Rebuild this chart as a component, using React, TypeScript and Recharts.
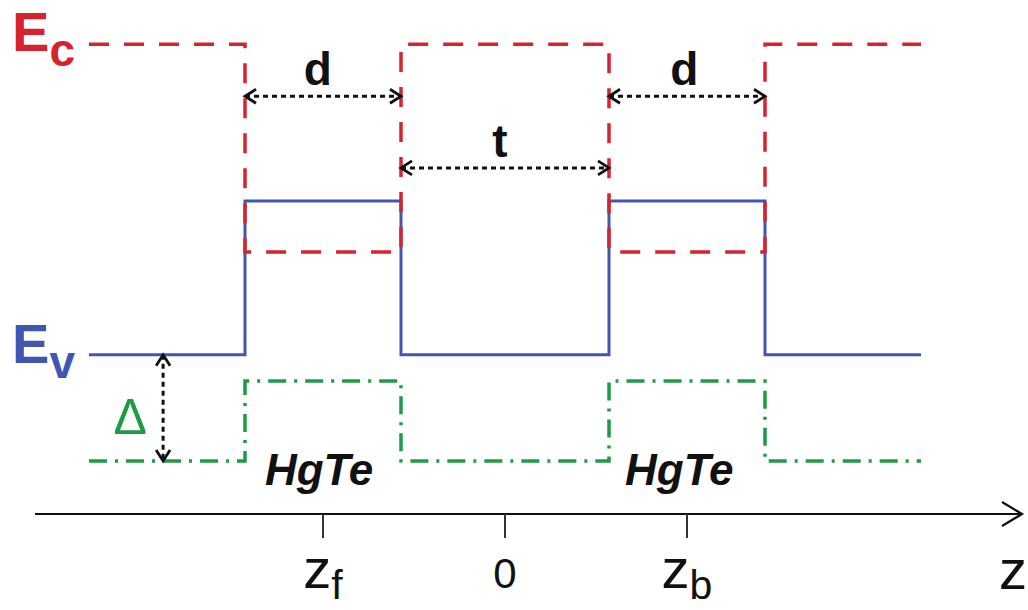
import React from "react";
import { LineChart, Line, XAxis, YAxis, ReferenceDot } from "recharts";

// band edges along z (well edges of the two HgTe layers)
const zEdges = [-16, -10, -4, 4, 10, 16];
const conductionBand = [9.83, 5.48, 9.83, 5.48, 9.83, 9.83];
const valenceBand = [3.33, 6.55, 3.33, 6.55, 3.33, 3.33];
const lowerBand = [1.11, 2.78, 1.11, 2.78, 1.11, 1.11];

const wellStarts = [-10, 4];
const wellEnds = [-4, 10];
const dArrowLevel = 8.74;
const tArrowLevel = 7.24;
const deltaArrowZ = -13.15;

const zTicks = [-7, 0, 7];
const zTickMain = ["z", "0", "z"];
const zTickSub = ["f", "", "b"];

const RED = "#d8232f";
const BLUE = "#4056b2";
const GREEN = "#1f9b47";
const FONT = "'Liberation Sans', Arial, sans-serif";

const bandRows = zEdges.map((z, i) => ({
  z,
  ec: conductionBand[i],
  ev: valenceBand[i],
  lb: lowerBand[i],
}));

const dArrows = wellStarts.map((s, i) => [
  { z: s, e: dArrowLevel },
  { z: wellEnds[i], e: dArrowLevel },
]);
const tArrow = [
  { z: wellEnds[0], e: tArrowLevel },
  { z: wellStarts[1], e: tArrowLevel },
];
const deltaArrow = [
  { z: deltaArrowZ, e: valenceBand[0] },
  { z: deltaArrowZ, e: lowerBand[0] },
];

function arrowDot(vertical: boolean) {
  return (p: any) => {
    const { cx, cy, index } = p;
    const s = index === 0 ? 1 : -1;
    const d = vertical
      ? `M${cx - 7},${cy + 11 * s} L${cx},${cy} L${cx + 7},${cy + 11 * s}`
      : `M${cx + 11 * s},${cy - 7} L${cx},${cy} L${cx + 11 * s},${cy + 7}`;
    return <path key={`a${index}`} d={d} fill="none" stroke="#111" strokeWidth={2.8} />;
  };
}

function label(text: string, opts: any) {
  return (p: any) => (
    <text
      x={p.cx}
      y={p.cy}
      textAnchor={opts.anchor ?? "middle"}
      fontFamily={FONT}
      fontSize={opts.size}
      fontWeight={opts.weight ?? "normal"}
      fontStyle={opts.style ?? "normal"}
      fill={opts.color ?? "#111"}
    >
      {text}
      {opts.sub ? (
        <tspan fontSize={opts.subSize} dy={opts.subDy}>
          {opts.sub}
        </tspan>
      ) : null}
    </text>
  );
}

function ZTick(props: any) {
  const { x, y, payload } = props;
  const i = zTicks.indexOf(payload.value);
  const main = zTickMain[i];
  const sub = zTickSub[i];
  return (
    <text x={x} y={y + 48} textAnchor="middle" fontFamily={FONT} fill="#111" fontSize={main === "0" ? 42 : 56}>
      {main}
      {sub ? (
        <tspan fontSize={41} dy={11}>
          {sub}
        </tspan>
      ) : null}
    </text>
  );
}

function axisHead(p: any) {
  const { cx, cy } = p;
  return (
    <path
      d={`M${cx - 18},${cy - 12} L${cx + 2},${cy} L${cx - 18},${cy + 12}`}
      fill="none"
      stroke="#111"
      strokeWidth={2.2}
    />
  );
}

export default function App() {
  return (
    <div style={{ position: "absolute", left: 0, top: 0, width: 1028, height: 610, background: "#fff" }}>
      <LineChart width={1028} height={610} margin={{ top: 36, right: 8, left: 35, bottom: 36 }}>
        <XAxis
          type="number"
          dataKey="z"
          domain={[-18.077, 19.808]}
          allowDataOverflow
          ticks={zTicks}
          tick={<ZTick />}
          tickSize={24}
          height={60}
          axisLine={{ stroke: "#111", strokeWidth: 2.2 }}
          tickLine={{ stroke: "#333", strokeWidth: 2 }}
        />
        <YAxis type="number" domain={[0, 10]} allowDataOverflow hide width={0} />

        <Line data={bandRows} dataKey="ev" type="stepAfter" stroke={BLUE} strokeWidth={3} dot={false} activeDot={false} isAnimationActive={false} />
        <Line data={bandRows} dataKey="ec" type="stepAfter" stroke={RED} strokeWidth={3.5} strokeDasharray="20 15" dot={false} activeDot={false} isAnimationActive={false} />
        <Line data={bandRows} dataKey="lb" type="stepAfter" stroke={GREEN} strokeWidth={3.5} strokeDasharray="18 8 3 8" dot={false} activeDot={false} isAnimationActive={false} />

        {dArrows.map((a, i) => (
          <Line key={`d${i}`} data={a} dataKey="e" stroke="#111" strokeWidth={3} strokeDasharray="5 4" dot={arrowDot(false)} activeDot={false} isAnimationActive={false} />
        ))}
        <Line data={tArrow} dataKey="e" stroke="#111" strokeWidth={3} strokeDasharray="5 4" dot={arrowDot(false)} activeDot={false} isAnimationActive={false} />
        <Line data={deltaArrow} dataKey="e" stroke="#111" strokeWidth={3} strokeDasharray="5 4" dot={arrowDot(true)} activeDot={false} isAnimationActive={false} />

        <ReferenceDot x={19.808} y={0} r={0} ifOverflow="visible" shape={axisHead} />

        <ReferenceDot x={-18.96} y={9.69} r={0} ifOverflow="visible" shape={label("E", { anchor: "start", size: 56, weight: "bold", color: RED, sub: "c", subSize: 46, subDy: 15 })} />
        <ReferenceDot x={-18.96} y={3.16} r={0} ifOverflow="visible" shape={label("E", { anchor: "start", size: 56, weight: "bold", color: BLUE, sub: "v", subSize: 46, subDy: 15 })} />
        <ReferenceDot x={-7.2} y={8.97} r={0} ifOverflow="visible" shape={label("d", { size: 46, weight: "bold" })} />
        <ReferenceDot x={6.9} y={8.97} r={0} ifOverflow="visible" shape={label("d", { size: 46, weight: "bold" })} />
        <ReferenceDot x={-0.2} y={7.47} r={0} ifOverflow="visible" shape={label("t", { size: 46, weight: "bold" })} />
        <ReferenceDot x={-7.15} y={0.61} r={0} ifOverflow="visible" shape={label("HgTe", { size: 44, weight: "bold", style: "italic" })} />
        <ReferenceDot x={6.7} y={0.61} r={0} ifOverflow="visible" shape={label("HgTe", { size: 44, weight: "bold", style: "italic" })} />
        <ReferenceDot x={-14.42} y={1.67} r={0} ifOverflow="visible" shape={label("Δ", { size: 50, color: GREEN })} />
        <ReferenceDot x={19.54} y={-1.57} r={0} ifOverflow="visible" shape={label("z", { size: 56 })} />
      </LineChart>
    </div>
  );
}
